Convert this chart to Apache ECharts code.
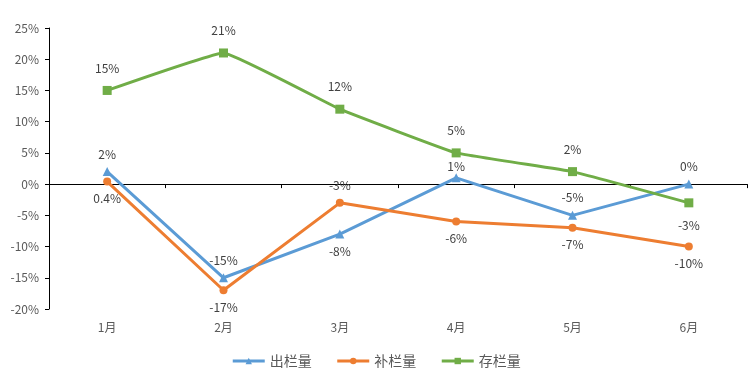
<!DOCTYPE html>
<html><head><meta charset="utf-8">
<script src="https://cdn.jsdelivr.net/npm/echarts@6/dist/echarts.min.js"></script>
<style>html,body{margin:0;padding:0;background:#fff}#c{width:752px;height:383px}</style>
</head><body><div id="c"></div>
<script>
var categories = ['1月','2月','3月','4月','5月','6月'];
var chulan = [2, -15, -8, 1, -5, 0];
var bulan = [0.4, -17, -3, -6, -7, -10];
var cunlan = [15, 21, 12, 5, 2, -3];
var chulanPos = ['top','top','bottom','top','top','top'];
var bulanPos = ['bottom','bottom','top','bottom','bottom','bottom'];
var cunlanPos = ['top','top','top','top','top','bottom'];
var yTicks = [-20, -15, -10, -5, 0, 5, 10, 15, 20, 25];

var font = '"Noto Sans CJK SC", "DejaVu Sans", sans-serif';
function fmt(v){ return v + '%'; }
function mk(vals, pos, dist){
  return vals.map(function(v,i){
    var o = {value: v, label: {position: pos[i]}};
    if (dist && dist[i] != null) o.label.distance = dist[i];
    return o;
  });
}
var chart = echarts.init(document.getElementById('c'), null, {renderer:'canvas'});
chart.setOption({
  animation:false,
  textStyle:{fontFamily: font},
  grid:{left:49, right:5, top:28, bottom:74, containLabel:false},
  legend:{
    bottom:10, left:'center', itemWidth:32, itemHeight:8, itemGap:24,
    lineStyle:{width:3},
    textStyle:{color:'#595959', fontSize:14, fontFamily:font},
    data:['出栏量','补栏量','存栏量']
  },
  xAxis:[{
    type:'category', data:categories, boundaryGap:true,
    axisLine:{onZero:true, lineStyle:{color:'#000', width:1}},
    axisTick:{show:true, length:4, inside:false, lineStyle:{color:'#000'}},
    axisLabel:{show:false}, splitLine:{show:false}
  },{
    type:'category', data:categories, position:'bottom', boundaryGap:true,
    axisLine:{show:false}, axisTick:{show:false},
    axisLabel:{show:true, color:'#595959', fontSize:12, margin:12, fontFamily:font}
  }],
  yAxis:{
    type:'value', min:-20, max:25, interval:5,
    axisLine:{show:true, lineStyle:{color:'#000'}},
    axisTick:{show:true, length:4, lineStyle:{color:'#000'}},
    splitLine:{show:false},
    axisLabel:{color:'#595959', fontSize:12, margin:10, formatter:function(v){return v+'%';}, fontFamily:font}
  },
  series:[{
    name:'出栏量', type:'line', xAxisIndex:0, data:mk(chulan, chulanPos, [null,null,null,1,null,null]),
    symbol:'triangle', symbolSize:9,
    lineStyle:{color:'#5B9BD5', width:3}, itemStyle:{color:'#5B9BD5'},
    label:{show:true, formatter:function(p){return fmt(p.value);}, color:'#404040', fontSize:12, distance:7, fontFamily:font}
  },{
    name:'补栏量', type:'line', xAxisIndex:0, data:mk(bulan, bulanPos),
    symbol:'circle', symbolSize:8,
    lineStyle:{color:'#ED7D31', width:3}, itemStyle:{color:'#ED7D31'},
    label:{show:true, formatter:function(p){return fmt(p.value);}, color:'#404040', fontSize:12, distance:7, fontFamily:font}
  },{
    name:'存栏量', type:'line', xAxisIndex:0, data:mk(cunlan, cunlanPos), smooth:0.08,
    symbol:'rect', symbolSize:9,
    lineStyle:{color:'#70AD47', width:3}, itemStyle:{color:'#70AD47'},
    label:{show:true, formatter:function(p){return fmt(p.value);}, color:'#404040', fontSize:12, distance:12, fontFamily:font}
  }]
});
</script></body></html>
